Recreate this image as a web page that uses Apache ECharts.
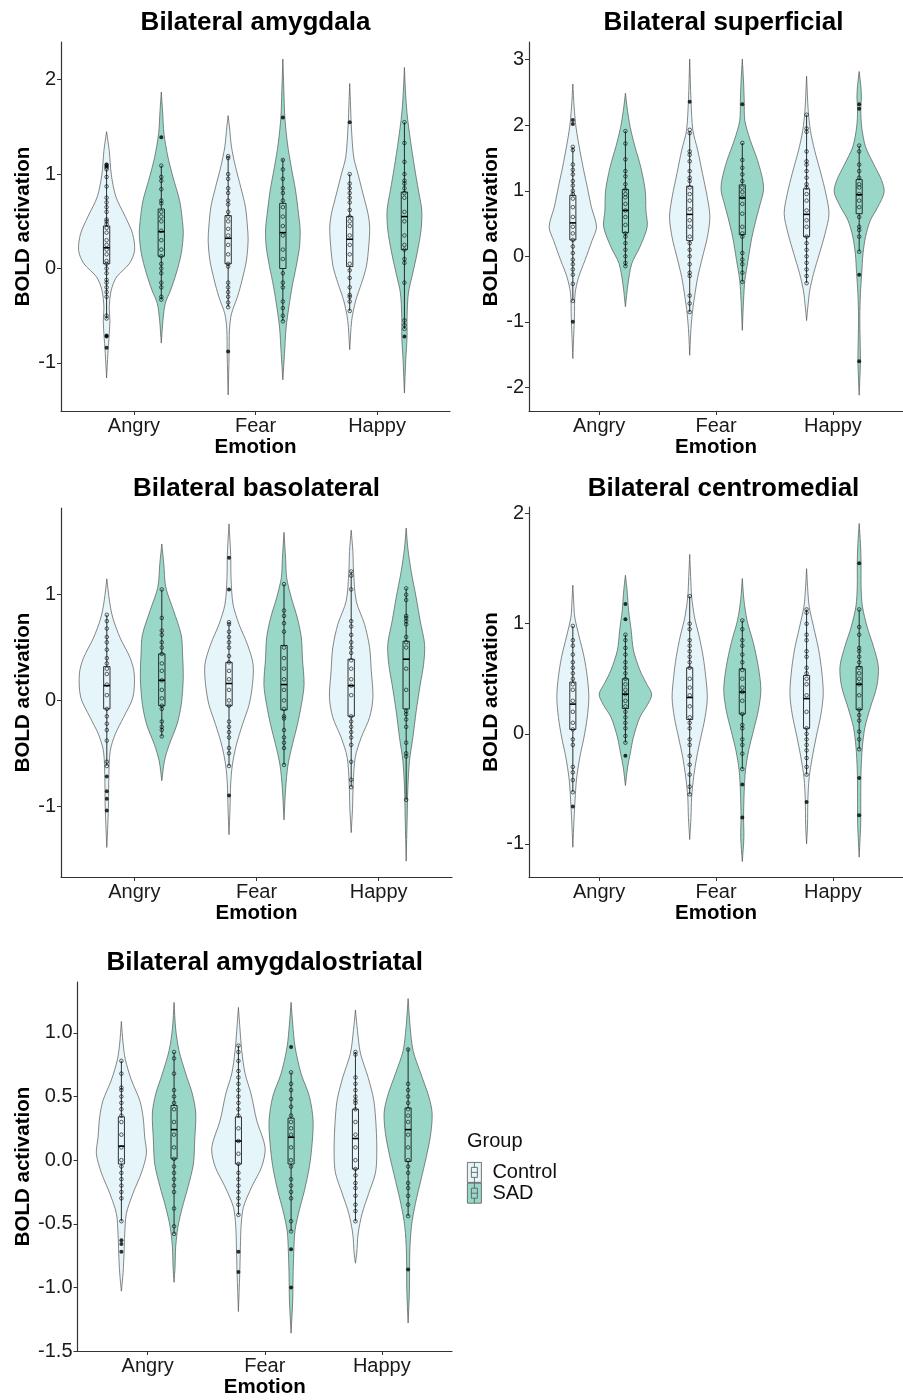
<!DOCTYPE html>
<html>
<head>
<meta charset="utf-8">
<title>BOLD activation by emotion</title>
<script src="https://cdn.jsdelivr.net/npm/echarts@6.0.0/dist/echarts.min.js"></script>
<style>
  html, body { margin: 0; padding: 0; background: #fff; }
  #chart { width: 903px; height: 1400px; }
</style>
</head>
<body>
<div id="chart"></div>
<script>
const emotions = ["Angry", "Fear", "Happy"];
const groups = ["Control", "SAD"];

// violin outlines: [value, relative density] from top to bottom
// order of the 6 entries: Angry-Control, Angry-SAD, Fear-Control, Fear-SAD, Happy-Control, Happy-SAD
// box stats: [lower whisker, Q1, median, Q3, upper whisker]

const amygdalaTicks = [-1, 0, 1, 2];
const amygdalaViolin = [
  [[1.45,0],[1.25,0.08],[1.0,0.14],[0.76,0.28],[0.55,0.56],[0.37,0.78],[0.19,0.84],[0.05,0.68],[-0.09,0.30],[-0.23,0.14],[-0.41,0.08],[-0.55,0.10],[-0.69,0.08],[-0.9,0.04],[-1.16,0]],
  [[1.87,0],[1.66,0.04],[1.43,0.08],[1.18,0.20],[0.97,0.35],[0.72,0.55],[0.55,0.62],[0.37,0.66],[0.16,0.60],[-0.05,0.45],[-0.23,0.28],[-0.37,0.12],[-0.55,0.05],[-0.79,0]],
  [[1.62,0],[1.5,0.04],[1.29,0.10],[1.08,0.22],[0.86,0.38],[0.65,0.52],[0.44,0.58],[0.3,0.60],[0.09,0.55],[-0.12,0.42],[-0.3,0.28],[-0.48,0.10],[-0.65,0.04],[-0.9,0.03],[-1.34,0]],
  [[2.22,0],[1.89,0.03],[1.6,0.06],[1.32,0.14],[1.08,0.25],[0.83,0.38],[0.58,0.47],[0.41,0.52],[0.23,0.50],[0.02,0.40],[-0.19,0.28],[-0.41,0.18],[-0.62,0.10],[-0.9,0.05],[-1.18,0]],
  [[1.96,0],[1.78,0.02],[1.5,0.05],[1.18,0.12],[1.0,0.25],[0.79,0.40],[0.58,0.55],[0.44,0.60],[0.23,0.57],[0.02,0.50],[-0.16,0.35],[-0.34,0.18],[-0.55,0.06],[-0.86,0]],
  [[2.13,0],[1.89,0.03],[1.64,0.08],[1.36,0.18],[1.08,0.30],[0.83,0.42],[0.62,0.52],[0.41,0.50],[0.16,0.38],[-0.05,0.25],[-0.26,0.12],[-0.51,0.08],[-0.72,0.08],[-0.97,0.04],[-1.32,0]]
];
const amygdalaBox = [
  [-0.53, 0.05, 0.22, 0.45, 1.05],
  [-0.33, 0.13, 0.39, 0.63, 1.09],
  [-0.41, 0.05, 0.32, 0.56, 1.19],
  [-0.56, 0.0, 0.38, 0.69, 1.16],
  [-0.45, 0.02, 0.31, 0.55, 1.0],
  [-0.64, 0.2, 0.55, 0.81, 1.55]
];
const amygdalaPoints = [
  [1.1, 1.07, 1.05, 0.97, 0.87, 0.75, 0.7, 0.65, 0.6, 0.52, 0.5, 0.47, 0.43, 0.38, 0.3, 0.25, 0.2, 0.15, 0.08, 0.05, 0.0, -0.05, -0.12, -0.15, -0.2, -0.25, -0.3, -0.5, -0.53],
  [1.09, 0.97, 0.93, 0.84, 0.72, 0.69, 0.6, 0.55, 0.5, 0.4, 0.3, 0.2, 0.13, 0.05, 0.0, -0.05, -0.15, -0.2, -0.3, -0.33],
  [1.19, 1.17, 1.0, 0.95, 0.85, 0.8, 0.72, 0.68, 0.6, 0.55, 0.5, 0.42, 0.35, 0.25, 0.15, 0.05, 0.02, -0.15, -0.2, -0.25, -0.3, -0.36, -0.41],
  [1.15, 1.05, 0.95, 0.85, 0.8, 0.72, 0.65, 0.55, 0.45, 0.35, 0.2, 0.1, -0.05, -0.15, -0.2, -0.35, -0.42, -0.5, -0.56],
  [1.0, 0.9, 0.85, 0.8, 0.75, 0.7, 0.62, 0.55, 0.5, 0.45, 0.35, 0.25, 0.15, 0.05, -0.02, -0.1, -0.2, -0.28, -0.3, -0.35, -0.45],
  [1.55, 1.33, 1.13, 1.0, 0.93, 0.9, 0.85, 0.8, 0.75, 0.6, 0.5, 0.35, 0.25, 0.2, 0.1, 0.06, -0.15, -0.55, -0.6, -0.64]
];
const amygdalaOutliers = [[1.1, 1.08, -0.71, -0.72, -0.84], [1.39], [-0.88], [1.6], [1.55], [-0.72]];

const superficialTicks = [-2, -1, 0, 1, 2, 3];
const superficialViolin = [
  [[2.63,0],[2.28,0.04],[1.97,0.10],[1.67,0.20],[1.36,0.32],[1.06,0.45],[0.75,0.58],[0.45,0.74],[0.24,0.60],[-0.06,0.38],[-0.32,0.18],[-0.57,0.07],[-0.93,0.05],[-1.18,0.03],[-1.56,0]],
  [[2.49,0],[2.28,0.05],[1.97,0.15],[1.67,0.30],[1.36,0.48],[1.0,0.62],[0.7,0.64],[0.45,0.68],[0.14,0.45],[-0.11,0.20],[-0.42,0.08],[-0.77,0]],
  [[3.01,0],[2.38,0.04],[1.92,0.10],[1.62,0.25],[1.26,0.40],[0.9,0.55],[0.6,0.63],[0.29,0.55],[-0.01,0.40],[-0.32,0.25],[-0.62,0.15],[-0.87,0.08],[-1.18,0.03],[-1.51,0]],
  [[3.01,0],[2.66,0.04],[2.38,0.06],[2.07,0.08],[1.77,0.25],[1.46,0.48],[1.16,0.64],[1.0,0.66],[0.8,0.56],[0.6,0.45],[0.29,0.30],[-0.06,0.18],[-0.37,0.08],[-0.67,0.04],[-1.13,0]],
  [[2.75,0],[2.23,0.05],[1.92,0.12],[1.62,0.25],[1.26,0.45],[0.96,0.60],[0.65,0.70],[0.35,0.58],[0.04,0.40],[-0.26,0.22],[-0.52,0.10],[-0.77,0.04],[-0.98,0]],
  [[2.82,0],[2.61,0.05],[2.43,0.07],[2.23,0.05],[1.97,0.08],[1.67,0.20],[1.41,0.45],[1.16,0.70],[0.98,0.78],[0.75,0.58],[0.55,0.35],[0.3,0.20],[0.04,0.12],[-0.26,0.08],[-0.57,0.04],[-0.93,0.02],[-1.28,0.03],[-1.59,0.04],[-1.89,0.02],[-2.12,0]]
];
const superficialBox = [
  [-0.68, 0.25, 0.51, 0.93, 1.67],
  [-0.15, 0.36, 0.70, 1.02, 1.91],
  [-0.85, 0.24, 0.64, 1.07, 1.90],
  [-0.39, 0.33, 0.89, 1.09, 1.73],
  [-0.41, 0.30, 0.64, 1.03, 2.16],
  [0.07, 0.65, 0.94, 1.17, 1.69]
];
const superficialPoints = [
  [1.67, 1.62, 1.4, 1.32, 1.25, 1.15, 1.08, 1.0, 0.95, 0.88, 0.75, 0.6, 0.45, 0.35, 0.25, 0.15, 0.05, -0.05, -0.12, -0.2, -0.28, -0.42, -0.68],
  [1.91, 1.72, 1.48, 1.3, 1.22, 1.1, 1.02, 0.95, 0.9, 0.8, 0.7, 0.6, 0.48, 0.35, 0.3, 0.2, 0.1, 0.0, -0.1, -0.15],
  [1.93, 1.88, 1.6, 1.55, 1.45, 1.3, 1.2, 1.15, 1.05, 0.95, 0.85, 0.72, 0.55, 0.45, 0.3, 0.2, 0.1, 0.0, -0.12, -0.25, -0.3, -0.6, -0.72, -0.85],
  [1.73, 1.47, 1.35, 1.25, 1.15, 1.05, 0.98, 0.9, 0.8, 0.65, 0.45, 0.35, 0.3, 0.05, -0.05, -0.12, -0.25, -0.39],
  [2.16, 1.95, 1.9, 1.6, 1.45, 1.4, 1.3, 1.2, 1.1, 1.05, 0.95, 0.85, 0.7, 0.55, 0.45, 0.3, 0.2, 0.1, 0.0, -0.1, -0.2, -0.3, -0.41],
  [1.69, 1.6, 1.4, 1.3, 1.2, 1.1, 1.05, 0.95, 0.85, 0.75, 0.6, 0.45, 0.4, 0.3, 0.07]
];
const superficialOutliers = [[2.08, 2.02, -1.0], [], [2.36], [2.32], [], [2.32, 2.25, -0.28, -1.6]];

const basolateralTicks = [-1, 0, 1];
const basolateralViolin = [
  [[1.15,0],[0.94,0.08],[0.78,0.18],[0.59,0.40],[0.4,0.70],[0.25,0.82],[0.03,0.78],[-0.16,0.50],[-0.32,0.25],[-0.48,0.10],[-0.73,0.06],[-0.98,0.05],[-1.17,0.03],[-1.39,0]],
  [[1.48,0],[1.29,0.06],[1.07,0.12],[0.85,0.35],[0.62,0.58],[0.44,0.62],[0.21,0.64],[-0.04,0.58],[-0.23,0.45],[-0.42,0.22],[-0.57,0.08],[-0.76,0]],
  [[1.67,0],[1.38,0.05],[1.16,0.06],[0.91,0.12],[0.72,0.30],[0.53,0.55],[0.34,0.72],[0.15,0.70],[-0.04,0.60],[-0.23,0.40],[-0.42,0.22],[-0.61,0.10],[-0.79,0.05],[-1.02,0.03],[-1.27,0]],
  [[1.59,0],[1.33,0.05],[1.16,0.08],[0.97,0.22],[0.78,0.40],[0.59,0.52],[0.4,0.55],[0.15,0.60],[-0.04,0.52],[-0.23,0.40],[-0.42,0.25],[-0.61,0.12],[-0.83,0.05],[-1.13,0]],
  [[1.61,0],[1.41,0.05],[1.22,0.07],[0.94,0.15],[0.72,0.40],[0.5,0.55],[0.28,0.60],[0.03,0.65],[-0.16,0.55],[-0.35,0.30],[-0.54,0.12],[-0.79,0.06],[-1.02,0.04],[-1.25,0]],
  [[1.63,0],[1.44,0.05],[1.22,0.15],[0.97,0.30],[0.75,0.42],[0.53,0.55],[0.34,0.52],[0.15,0.42],[-0.1,0.30],[-0.35,0.20],[-0.57,0.10],[-0.83,0.05],[-1.11,0.03],[-1.52,0]]
];
const basolateralBox = [
  [-0.62, -0.08, 0.14, 0.32, 0.81],
  [-0.34, -0.05, 0.19, 0.44, 1.05],
  [-0.62, -0.05, 0.16, 0.36, 0.74],
  [-0.61, -0.09, 0.15, 0.52, 1.10],
  [-0.82, -0.15, 0.14, 0.39, 1.22],
  [-0.94, -0.08, 0.39, 0.56, 1.06]
];
const basolateralPoints = [
  [0.81, 0.75, 0.68, 0.6, 0.55, 0.48, 0.4, 0.35, 0.3, 0.25, 0.15, 0.05, -0.08, -0.15, -0.22, -0.28, -0.38, -0.58, -0.62],
  [1.05, 0.78, 0.66, 0.62, 0.55, 0.5, 0.44, 0.35, 0.28, 0.19, 0.1, 0.02, -0.05, -0.08, -0.2, -0.25, -0.28, -0.34],
  [0.74, 0.72, 0.65, 0.6, 0.55, 0.5, 0.42, 0.36, 0.28, 0.2, 0.1, 0.0, -0.05, -0.2, -0.25, -0.3, -0.35, -0.45, -0.5, -0.62],
  [1.1, 0.85, 0.8, 0.73, 0.65, 0.5, 0.4, 0.3, 0.2, 0.1, 0.0, -0.08, -0.15, -0.17, -0.28, -0.35, -0.4, -0.45, -0.61],
  [1.22, 1.18, 1.05, 0.75, 0.7, 0.62, 0.55, 0.5, 0.45, 0.38, 0.3, 0.2, 0.14, 0.05, -0.15, -0.2, -0.25, -0.3, -0.35, -0.42, -0.58, -0.75, -0.82],
  [1.06, 1.0, 0.95, 0.8, 0.78, 0.75, 0.72, 0.6, 0.55, 0.5, 0.3, 0.1, -0.1, -0.13, -0.18, -0.25, -0.4, -0.5, -0.53, -0.94]
];
const basolateralOutliers = [[-0.72, -0.86, -0.93, -1.04], [], [1.35, 1.05, -0.9], [], [], []];

const centromedialTicks = [-1, 0, 1, 2];
const centromedialViolin = [
  [[1.35,0],[1.19,0.03],[1.06,0.06],[0.88,0.20],[0.7,0.35],[0.52,0.45],[0.33,0.50],[0.15,0.45],[-0.03,0.35],[-0.21,0.22],[-0.4,0.12],[-0.55,0.08],[-0.76,0.04],[-1.03,0]],
  [[1.44,0],[1.31,0.05],[1.12,0.10],[0.94,0.18],[0.76,0.25],[0.58,0.45],[0.46,0.65],[0.36,0.82],[0.27,0.70],[0.15,0.45],[-0.03,0.25],[-0.18,0.15],[-0.3,0.07],[-0.47,0]],
  [[1.63,0],[1.43,0.03],[1.25,0.06],[1.06,0.15],[0.88,0.30],[0.7,0.42],[0.52,0.50],[0.33,0.55],[0.15,0.48],[-0.03,0.35],[-0.21,0.22],[-0.4,0.12],[-0.58,0.06],[-0.76,0.04],[-0.96,0]],
  [[1.41,0],[1.22,0.05],[1.03,0.15],[0.82,0.35],[0.61,0.50],[0.4,0.58],[0.21,0.50],[0.03,0.35],[-0.15,0.20],[-0.33,0.10],[-0.52,0.06],[-0.76,0.04],[-0.94,0.05],[-1.16,0]],
  [[1.5,0],[1.34,0.03],[1.16,0.08],[0.97,0.22],[0.76,0.38],[0.55,0.48],[0.36,0.52],[0.18,0.45],[-0.03,0.30],[-0.21,0.18],[-0.4,0.08],[-0.61,0.04],[-0.82,0.03],[-1.0,0]],
  [[1.91,0],[1.73,0.04],[1.55,0.06],[1.34,0.06],[1.16,0.10],[0.97,0.25],[0.79,0.45],[0.61,0.60],[0.43,0.55],[0.24,0.35],[0.06,0.18],[-0.12,0.10],[-0.33,0.06],[-0.58,0.05],[-0.79,0.05],[-0.94,0.03],[-1.12,0]]
];
const centromedialBox = [
  [-0.53, 0.04, 0.27, 0.47, 0.98],
  [-0.08, 0.23, 0.36, 0.50, 0.90],
  [-0.55, 0.13, 0.33, 0.60, 1.25],
  [-0.32, 0.18, 0.38, 0.59, 1.03],
  [-0.37, 0.05, 0.32, 0.53, 1.13],
  [-0.14, 0.22, 0.45, 0.61, 1.13]
];
const centromedialPoints = [
  [0.98, 0.85, 0.8, 0.72, 0.65, 0.6, 0.55, 0.5, 0.45, 0.4, 0.3, 0.2, 0.1, 0.04, -0.05, -0.1, -0.3, -0.35, -0.42, -0.53],
  [0.9, 0.85, 0.78, 0.72, 0.65, 0.6, 0.55, 0.5, 0.45, 0.4, 0.36, 0.3, 0.25, 0.2, 0.15, 0.1, 0.05, -0.02, -0.08],
  [1.25, 1.0, 0.95, 0.85, 0.8, 0.75, 0.7, 0.65, 0.6, 0.5, 0.42, 0.35, 0.25, 0.15, 0.1, 0.05, -0.05, -0.1, -0.2, -0.28, -0.37, -0.48, -0.55],
  [1.03, 0.95, 0.85, 0.8, 0.72, 0.65, 0.58, 0.5, 0.42, 0.38, 0.3, 0.18, 0.08, 0.05, -0.05, -0.1, -0.18, -0.32],
  [1.13, 1.1, 1.0, 0.9, 0.85, 0.75, 0.7, 0.6, 0.55, 0.5, 0.45, 0.35, 0.2, 0.05, 0.0, -0.05, -0.1, -0.15, -0.22, -0.3, -0.37],
  [1.13, 0.97, 0.9, 0.78, 0.75, 0.7, 0.65, 0.6, 0.55, 0.5, 0.45, 0.35, 0.22, 0.17, 0.12, 0.02, -0.05, -0.14]
];
const centromedialOutliers = [[-0.66], [1.18, 1.04, -0.2], [], [-0.46, -0.76], [-0.62], [1.55, -0.4, -0.74]];

const striatalTicks = [-1.5, -1.0, -0.5, 0.0, 0.5, 1.0];
const striatalViolin = [
  [[1.09,0],[0.92,0.05],[0.79,0.12],[0.63,0.30],[0.47,0.55],[0.34,0.65],[0.18,0.70],[0.05,0.75],[-0.1,0.60],[-0.26,0.35],[-0.42,0.15],[-0.58,0.10],[-0.73,0.08],[-0.89,0.05],[-1.03,0]],
  [[1.24,0],[1.03,0.05],[0.86,0.15],[0.68,0.35],[0.52,0.55],[0.37,0.65],[0.16,0.62],[-0.03,0.58],[-0.21,0.42],[-0.37,0.25],[-0.52,0.12],[-0.68,0.05],[-0.84,0.03],[-0.96,0]],
  [[1.2,0],[1.02,0.05],[0.86,0.10],[0.68,0.20],[0.52,0.38],[0.31,0.55],[0.1,0.80],[-0.05,0.70],[-0.21,0.40],[-0.37,0.15],[-0.52,0.08],[-0.68,0.06],[-0.89,0.04],[-1.19,0]],
  [[1.24,0],[1.07,0.05],[0.89,0.12],[0.68,0.30],[0.5,0.55],[0.31,0.66],[0.13,0.63],[-0.05,0.55],[-0.24,0.40],[-0.39,0.25],[-0.55,0.12],[-0.73,0.08],[-0.92,0.06],[-1.1,0.05],[-1.36,0]],
  [[1.18,0],[1.02,0.06],[0.84,0.15],[0.65,0.38],[0.47,0.55],[0.26,0.62],[0.05,0.64],[-0.1,0.60],[-0.26,0.40],[-0.42,0.20],[-0.58,0.08],[-0.73,0.04],[-0.81,0]],
  [[1.27,0],[1.05,0.06],[0.86,0.15],[0.68,0.38],[0.5,0.62],[0.37,0.72],[0.21,0.68],[0.03,0.55],[-0.16,0.38],[-0.34,0.22],[-0.52,0.10],[-0.73,0.05],[-1.02,0.04],[-1.28,0]]
];
const striatalBox = [
  [-0.48, -0.03, 0.11, 0.34, 0.78],
  [-0.58, 0.01, 0.24, 0.43, 0.85],
  [-0.43, -0.03, 0.15, 0.34, 0.90],
  [-0.56, -0.03, 0.18, 0.33, 0.69],
  [-0.48, -0.07, 0.17, 0.40, 0.85],
  [-0.44, -0.01, 0.24, 0.41, 0.88]
];
const striatalPoints = [
  [0.78, 0.68, 0.57, 0.55, 0.5, 0.45, 0.4, 0.35, 0.3, 0.2, 0.1, 0.0, -0.05, -0.1, -0.15, -0.2, -0.25, -0.3, -0.48],
  [0.85, 0.8, 0.68, 0.55, 0.5, 0.45, 0.4, 0.3, 0.2, 0.1, 0.01, -0.05, -0.1, -0.15, -0.2, -0.25, -0.38, -0.52, -0.58],
  [0.9, 0.85, 0.78, 0.7, 0.65, 0.6, 0.55, 0.5, 0.45, 0.4, 0.35, 0.25, 0.15, 0.05, -0.03, -0.1, -0.15, -0.2, -0.25, -0.3, -0.35, -0.43],
  [0.69, 0.6, 0.55, 0.48, 0.42, 0.35, 0.3, 0.25, 0.2, 0.1, 0.0, -0.05, -0.15, -0.2, -0.25, -0.3, -0.48, -0.56],
  [0.85, 0.83, 0.65, 0.6, 0.55, 0.5, 0.47, 0.45, 0.4, 0.3, 0.2, 0.1, 0.0, -0.07, -0.12, -0.18, -0.22, -0.28, -0.35, -0.4, -0.48],
  [0.87, 0.6, 0.55, 0.5, 0.45, 0.4, 0.35, 0.3, 0.2, 0.1, 0.0, -0.05, -0.1, -0.18, -0.22, -0.28, -0.35, -0.44]
];
const striatalOutliers = [[-0.63, -0.66, -0.72], [], [-0.72, -0.88], [0.89, -0.7, -1.0], [], [-0.86]];

const FONT = "'Liberation Sans', Arial, sans-serif";
const COLORS = ["#e5f5f9", "#99d8c9"];
const DODGE = 0.225;
const BOX_HALF = 0.026;

const panels = [
  { title: "Bilateral amygdala", left: 61, top: 42, width: 389, height: 369, min: -1.51, max: 2.40, ticks: amygdalaTicks, digits: 0, nameGap: 27, titleTop: 10, widthScale: 0.274,
    violin: amygdalaViolin, box: amygdalaBox, points: amygdalaPoints, outliers: amygdalaOutliers },
  { title: "Bilateral superficial", left: 529, top: 42, width: 389, height: 369, min: -2.36, max: 3.27, ticks: superficialTicks, digits: 0, nameGap: 27, titleTop: 10, widthScale: 0.274,
    violin: superficialViolin, box: superficialBox, points: superficialPoints, outliers: superficialOutliers },
  { title: "Bilateral basolateral", left: 61, top: 508, width: 391, height: 369, min: -1.67, max: 1.82, ticks: basolateralTicks, digits: 0, nameGap: 27, titleTop: 476, widthScale: 0.274,
    violin: basolateralViolin, box: basolateralBox, points: basolateralPoints, outliers: basolateralOutliers },
  { title: "Bilateral centromedial", left: 529, top: 507, width: 389, height: 370, min: -1.30, max: 2.06, ticks: centromedialTicks, digits: 0, nameGap: 27, titleTop: 476, widthScale: 0.274,
    violin: centromedialViolin, box: centromedialBox, points: centromedialPoints, outliers: centromedialOutliers },
  { title: "Bilateral amygdalostriatal", left: 77.5, top: 982, width: 374.5, height: 369, min: -1.5, max: 1.40, ticks: striatalTicks, digits: 1, nameGap: 44, titleTop: 950, widthScale: 0.285,
    violin: striatalViolin, box: striatalBox, points: striatalPoints, outliers: striatalOutliers }
];

function violinItem(profiles, widthScale) {
  return function (params, api) {
    const x = api.value(0);
    const prof = profiles[params.dataIndex];
    const leftSide = prof.map(p => api.coord([x - p[1] * widthScale, p[0]]));
    const rightSide = prof.map(p => api.coord([x + p[1] * widthScale, p[0]])).reverse();
    const lo = api.coord([x, api.value(1)]);
    const q1 = api.coord([x - BOX_HALF, api.value(2)]);
    const medL = api.coord([x - BOX_HALF, api.value(3)]);
    const medR = api.coord([x + BOX_HALF, api.value(3)]);
    const q3 = api.coord([x + BOX_HALF, api.value(4)]);
    const hi = api.coord([x, api.value(5)]);
    const color = api.visual("color");
    return {
      type: "group",
      children: [
        { type: "polygon", shape: { points: leftSide.concat(rightSide), smooth: 0.3 },
          style: { fill: color, stroke: "#555", lineWidth: 0.7 } },
        { type: "line", shape: { x1: lo[0], y1: lo[1], x2: lo[0], y2: q1[1] }, style: { stroke: "#000", lineWidth: 0.8 } },
        { type: "line", shape: { x1: hi[0], y1: hi[1], x2: hi[0], y2: q3[1] }, style: { stroke: "#000", lineWidth: 0.8 } },
        { type: "rect", shape: { x: q1[0], y: q3[1], width: q3[0] - q1[0], height: q1[1] - q3[1] },
          style: { fill: color, stroke: "#000", lineWidth: 0.8 } },
        { type: "line", shape: { x1: medL[0], y1: medL[1], x2: medR[0], y2: medR[1] }, style: { stroke: "#000", lineWidth: 1.6 } }
      ]
    };
  };
}

const option = {
  animation: false,
  backgroundColor: "#fff",
  textStyle: { fontFamily: FONT },
  title: [],
  grid: [],
  xAxis: [],
  yAxis: [],
  series: [],
  legend: {
    orient: "vertical",
    left: 467,
    top: 1162,
    padding: 0,
    itemGap: 0,
    itemWidth: 14,
    itemHeight: 20,
    selectedMode: false,
    icon: "path://M0,0H14V20H0Z M4,5H10V15H4Z M4,10H10 M7,0V5 M7,15V20",
    itemStyle: { borderColor: "#555", borderWidth: 0.8 },
    textStyle: { fontSize: 20, color: "#111", fontFamily: FONT, padding: [0, 0, 0, 6] },
    data: groups
  },
  graphic: [
    { type: "text", left: 467, top: 1131, style: { text: "Group", font: "20px " + FONT, fill: "#111" } }
  ]
};

panels.forEach((p, i) => {
  option.title.push({
    text: p.title,
    left: p.left + p.width / 2,
    top: p.titleTop,
    padding: 0,
    textAlign: "center",
    textStyle: { fontSize: 26, fontWeight: "bold", color: "#000", fontFamily: FONT }
  });
  option.grid.push({ left: p.left, top: p.top, width: p.width, height: p.height });
  option.xAxis.push({
    gridIndex: i,
    type: "value",
    min: 0.4,
    max: 3.6,
    name: "Emotion",
    nameLocation: "middle",
    nameGap: 26,
    nameTextStyle: { fontSize: 20.5, fontWeight: "bold", color: "#000", fontFamily: FONT },
    axisLine: { show: true, onZero: false, lineStyle: { color: "#333", width: 1.2 } },
    axisTick: { show: true, length: 4, lineStyle: { color: "#333" }, customValues: [1, 2, 3] },
    axisLabel: { fontSize: 20, color: "#1a1a1a", margin: 5, customValues: [1, 2, 3],
      formatter: v => emotions[Math.round(v) - 1] },
    splitLine: { show: false }
  });
  option.yAxis.push({
    gridIndex: i,
    type: "value",
    min: p.min,
    max: p.max,
    name: "BOLD activation",
    nameLocation: "middle",
    nameRotate: 90,
    nameGap: p.nameGap,
    nameTextStyle: { fontSize: 20.5, fontWeight: "bold", color: "#000", fontFamily: FONT },
    axisLine: { show: true, onZero: false, lineStyle: { color: "#333", width: 1.2 } },
    axisTick: { show: true, length: 4, lineStyle: { color: "#333" }, customValues: p.ticks },
    axisLabel: { fontSize: 20, color: "#1a1a1a", margin: 5, customValues: p.ticks,
      formatter: v => v.toFixed(p.digits) },
    splitLine: { show: false }
  });

  const pointData = [];
  const outlierData = [];
  groups.forEach((g, gi) => {
    const data = [];
    const profiles = [];
    emotions.forEach((e, ei) => {
      const k = ei * 2 + gi;
      const x = ei + 1 + (gi === 0 ? -DODGE : DODGE);
      data.push([x].concat(p.box[k]));
      profiles.push(p.violin[k]);
      p.points[k].forEach(v => pointData.push([x, v]));
      p.outliers[k].forEach(v => outlierData.push([x, v]));
    });
    option.series.push({
      type: "custom",
      name: g,
      xAxisIndex: i,
      yAxisIndex: i,
      itemStyle: { color: COLORS[gi], borderColor: "#555" },
      encode: { x: 0, y: [1, 2, 3, 4, 5] },
      renderItem: violinItem(profiles, p.widthScale),
      data: data,
      silent: true,
      z: 2
    });
  });
  option.series.push({
    type: "scatter",
    name: "points",
    xAxisIndex: i,
    yAxisIndex: i,
    symbol: "circle",
    symbolSize: 3.6,
    itemStyle: { color: "rgba(0,0,0,0)", borderColor: "#000", borderWidth: 0.6, opacity: 1 },
    data: pointData,
    silent: true,
    z: 3
  });
  option.series.push({
    type: "scatter",
    name: "outliers",
    xAxisIndex: i,
    yAxisIndex: i,
    symbol: "circle",
    symbolSize: 4,
    itemStyle: { color: "#000" },
    data: outlierData,
    silent: true,
    z: 4
  });
});

const chart = echarts.init(document.getElementById("chart"), null, { renderer: "canvas" });
chart.setOption(option);
</script>
</body>
</html>
